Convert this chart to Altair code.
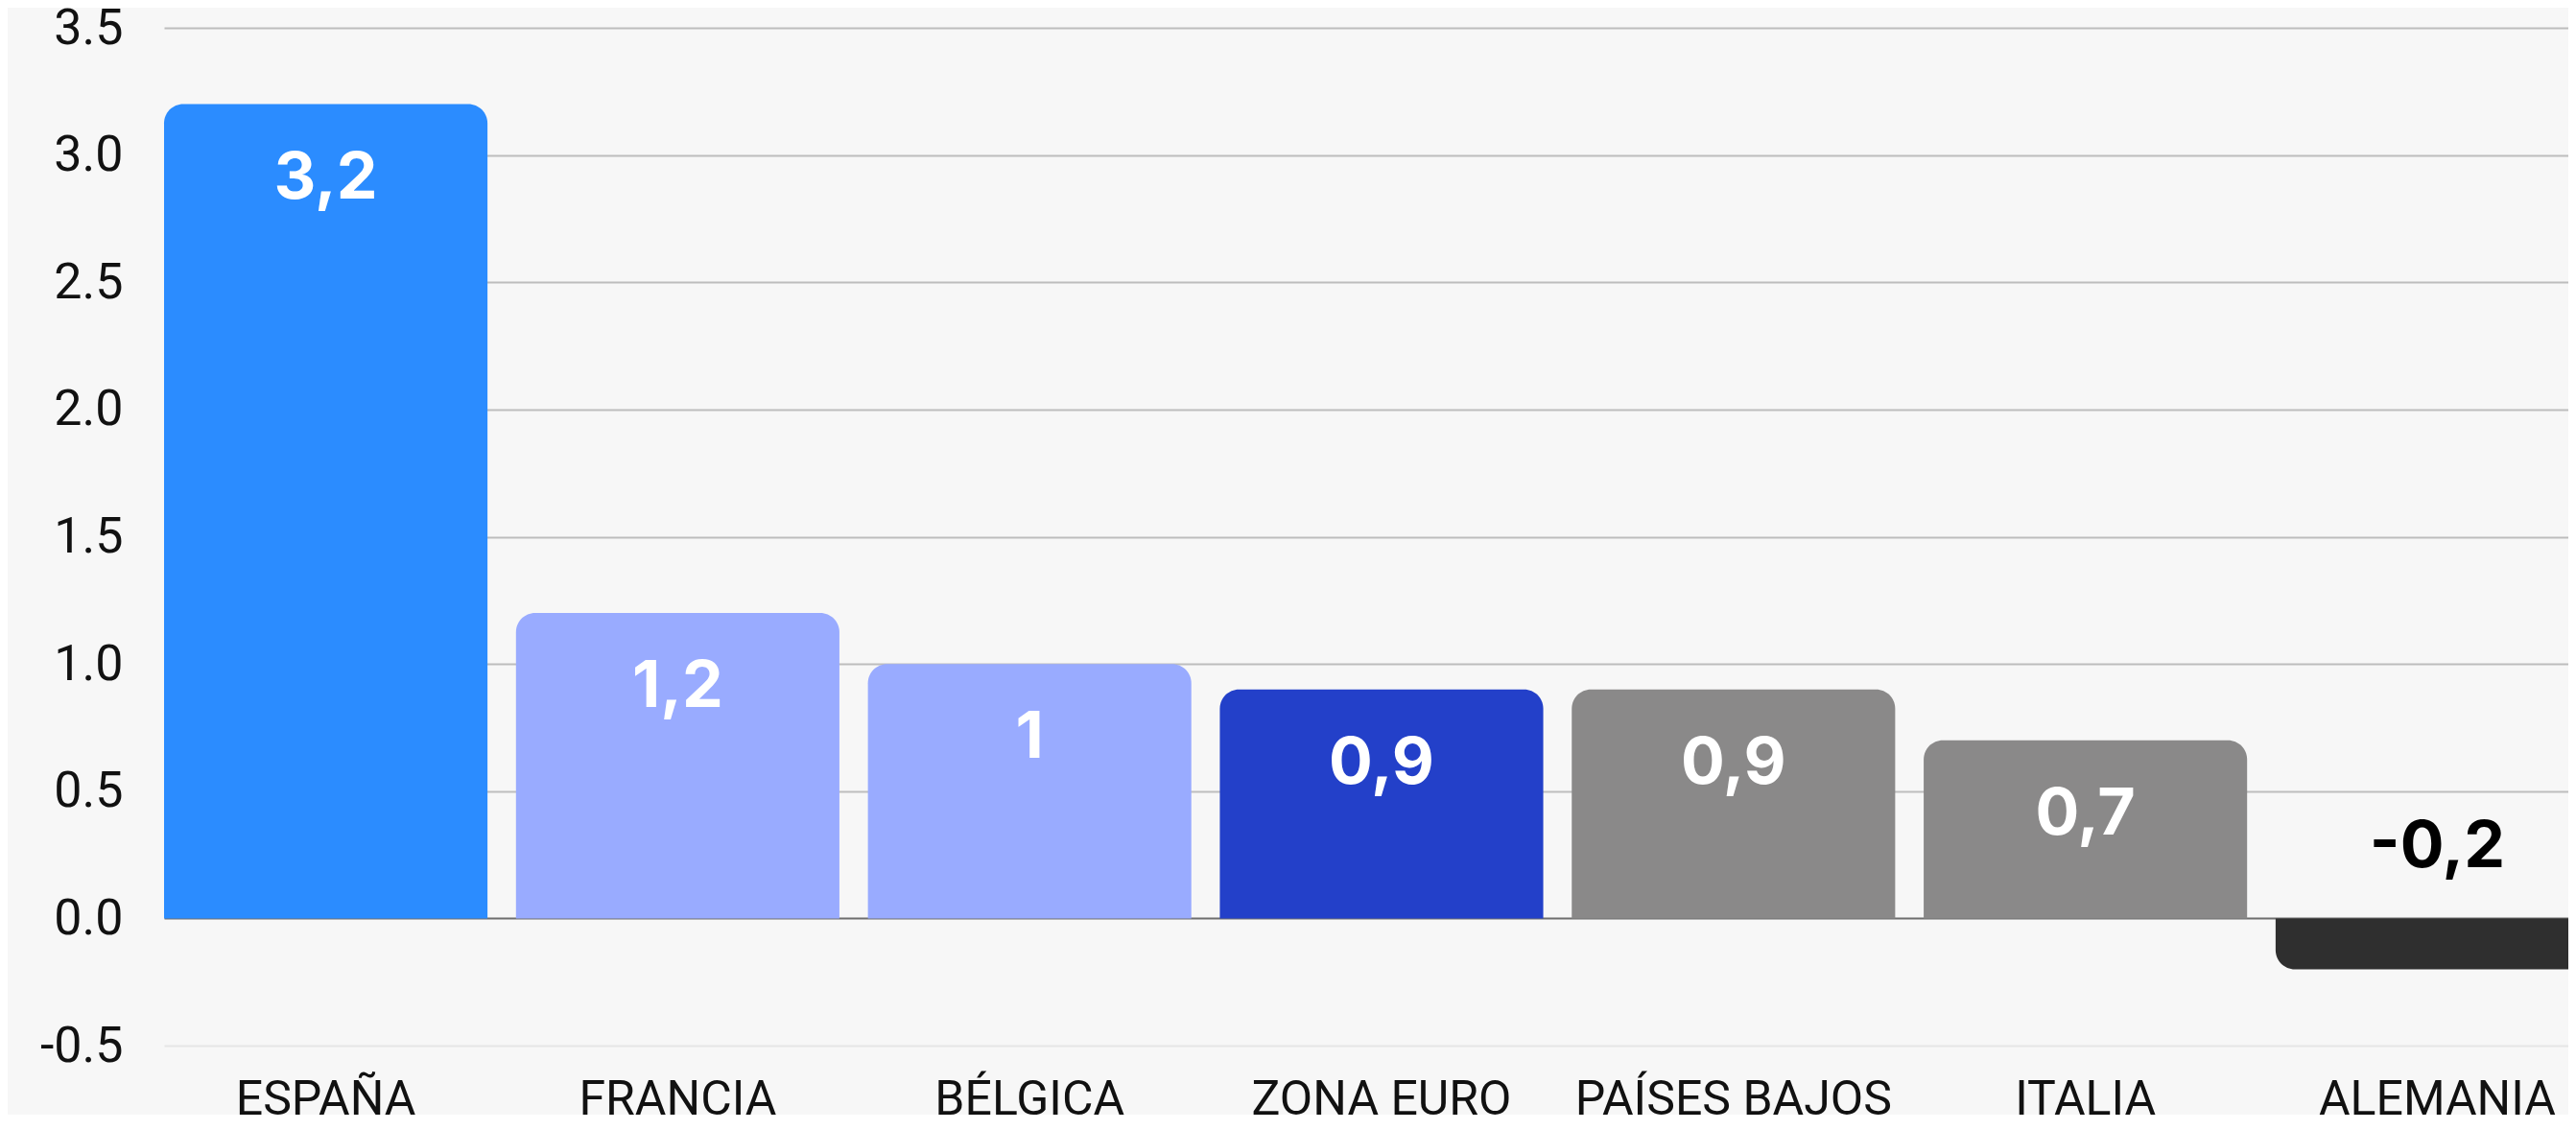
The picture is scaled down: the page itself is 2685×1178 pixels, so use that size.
import altair as alt
import pandas as pd

countries = ["ESPAÑA", "FRANCIA", "BÉLGICA", "ZONA EURO", "PAÍSES BAJOS", "ITALIA", "ALEMANIA"]
values = [3.2, 1.2, 1.0, 0.9, 0.9, 0.7, -0.2]
labels = ["3,2", "1,2", "1", "0,9", "0,9", "0,7", "-0,2"]
colors = ["#2B8CFF", "#99ABFF", "#99ABFF", "#2340C9", "#8A8989", "#8A8989", "#2F2F2F"]
y_ticks = [-0.5, 0.0, 0.5, 1.0, 1.5, 2.0, 2.5, 3.0, 3.5]

df = pd.DataFrame({"pais": countries, "valor": values, "etiqueta": labels})

PLOT_W = 2506
PLOT_H = 1061
X_RANGE = 2538

x_enc = alt.X(
    "pais:N",
    sort=countries,
    title=None,
    scale=alt.Scale(range=[0, X_RANGE], paddingInner=0.081, paddingOuter=0),
    axis=alt.Axis(
        labelAngle=0,
        labelFont="Roboto",
        labelFontSize=50,
        labelColor="#111111",
        labelPadding=31,
        labelLimit=1000,
        labelOverlap=False,
        ticks=False,
        domain=False,
        grid=False,
    ),
)

y_enc = alt.Y(
    "valor:Q",
    title=None,
    scale=alt.Scale(domain=[-0.5, 3.5], nice=False, zero=False),
    axis=alt.Axis(
        values=y_ticks,
        labelExpr="datum.value < 0 ? '-' + format(-datum.value, '.1f') : format(datum.value, '.1f')",
        labelFont="Roboto",
        labelFontSize=52,
        labelColor="#111111",
        labelPadding=43,
        ticks=False,
        domain=False,
        gridWidth=2,
        gridColor={
            "condition": [
                {"test": "datum.value === 0", "value": "#6E6E6E"},
                {"test": "datum.value < 0", "value": "#E6E6E6"},
            ],
            "value": "#BDBDBD",
        },
    ),
)

color_enc = alt.Color("pais:N", scale=alt.Scale(domain=countries, range=colors), legend=None)

base = alt.Chart(df)

bars_pos = base.transform_filter("datum.valor >= 0").mark_bar(
    cornerRadiusTopLeft=20, cornerRadiusTopRight=20
).encode(x=x_enc, y=y_enc, y2=alt.datum(0), color=color_enc)

bars_neg = base.transform_filter("datum.valor < 0").mark_bar(
    cornerRadiusBottomLeft=20, cornerRadiusBottomRight=20
).encode(x=x_enc, y=y_enc, y2=alt.datum(0), color=color_enc)

text_pos = base.transform_filter("datum.valor >= 0").mark_text(
    font="Inter", fontSize=68, fontWeight="bold", color="#FFFFFF",
    baseline="alphabetic", align="center", dy=98
).encode(x=x_enc, y=y_enc, text="etiqueta:N")

text_neg = base.transform_filter("datum.valor < 0").mark_text(
    font="Inter", fontSize=68, fontWeight="bold", color="#000000",
    baseline="alphabetic", align="center", dy=-53
).encode(x=x_enc, y=alt.datum(0), text="etiqueta:N")

chart = alt.layer(bars_pos, bars_neg, text_pos, text_neg).properties(
    width=PLOT_W,
    height=PLOT_H,
    background="#F7F7F7",
    padding={"left": 163, "top": 21, "right": 0, "bottom": 72},
    autosize=alt.AutoSizeParams(type="none"),
).configure_view(stroke=None)

chart.save("out.html", embed_options={"renderer": "svg", "actions": False})
